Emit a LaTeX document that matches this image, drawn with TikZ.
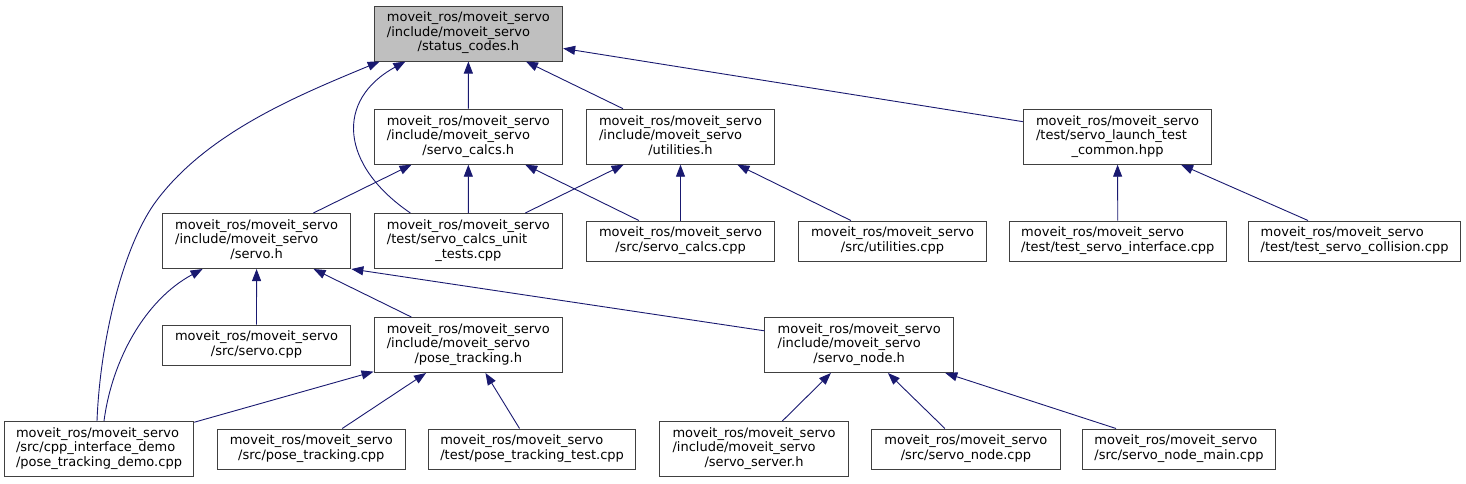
\documentclass[tikz,border=0pt]{standalone}
\usepackage{fontspec}
\setmainfont{DejaVu Sans}
\usetikzlibrary{arrows.meta}

\definecolor{edgeblue}{HTML}{191970}
\definecolor{boxgray}{HTML}{404040}
\definecolor{focusfill}{HTML}{BFBFBF}

% file labels: first lines flush left, last line centred
\newcommand{\threeline}[3]{\begin{tabular}{@{}l@{}}#1\\#2\\\multicolumn{1}{@{}c@{}}{#3}\end{tabular}}
\newcommand{\twoline}[2]{\begin{tabular}{@{}l@{}}#1\\\multicolumn{1}{@{}c@{}}{#2}\end{tabular}}
\newcommand{\pkg}{moveit\_ros/moveit\_servo}

\begin{document}
\begin{tikzpicture}[x=1pt,y=-1pt,>={Triangle[length=12pt,width=9pt]},
  file/.style={draw=boxgray,line width=1pt,inner xsep=11.75pt,inner ysep=0pt,
    minimum width=188.5pt,font=\fontsize{13}{14.5}\selectfont},
  tallfile/.style={file,minimum height=55pt},
  shortfile/.style={file,minimum height=40pt},
  dep/.style={->,draw=edgeblue,color=edgeblue,line width=0.9pt}]
\useasboundingbox (0,0) rectangle (1466,483);

\node[tallfile,fill=focusfill] (sc) at (468.4,33.5) {\threeline{\pkg}{/include/moveit\_servo}{/status\_codes.h}};

\node[tallfile] (calcsh) at (468.3,136.7) {\threeline{\pkg}{/include/moveit\_servo}{/servo\_calcs.h}};
\node[tallfile] (utilh) at (680.5,136.7) {\threeline{\pkg}{/include/moveit\_servo}{/utilities.h}};
\node[tallfile] (launch) at (1117.5,136.7) {\threeline{\pkg}{/test/servo\_launch\_test}{\_common.hpp}};

\node[tallfile] (servoh) at (256.6,241) {\threeline{\pkg}{/include/moveit\_servo}{/servo.h}};
\node[tallfile] (unit) at (468.4,241) {\threeline{\pkg}{/test/servo\_calcs\_unit}{\_tests.cpp}};
\node[shortfile] (calcscpp) at (680.5,241) {\twoline{\pkg}{/src/servo\_calcs.cpp}};
\node[shortfile] (utilcpp) at (892.5,241) {\twoline{\pkg}{/src/utilities.cpp}};
\node[shortfile] (iface) at (1117.8,241) {\twoline{\pkg}{/test/test\_servo\_interface.cpp}};
\node[shortfile] (coll) at (1354.6,241) {\twoline{\pkg}{/test/test\_servo\_collision.cpp}};

\node[shortfile] (servocpp) at (256.5,345) {\twoline{\pkg}{/src/servo.cpp}};
\node[tallfile] (pth) at (468.3,345) {\threeline{\pkg}{/include/moveit\_servo}{/pose\_tracking.h}};
\node[tallfile] (nodeh) at (859.2,345) {\threeline{\pkg}{/include/moveit\_servo}{/servo\_node.h}};

\node[tallfile] (demo) at (99,449) {\threeline{\pkg}{/src/cpp\_interface\_demo}{/pose\_tracking\_demo.cpp}};
\node[shortfile] (ptcpp) at (311.3,449) {\twoline{\pkg}{/src/pose\_tracking.cpp}};
\node[shortfile] (pttest) at (532.1,449) {\twoline{\pkg}{/test/pose\_tracking\_test.cpp}};
\node[tallfile] (server) at (754,449) {\threeline{\pkg}{/include/moveit\_servo}{/servo\_server.h}};
\node[shortfile] (nodecpp) at (965.9,449) {\twoline{\pkg}{/src/servo\_node.cpp}};
\node[shortfile] (nodemain) at (1179,449) {\twoline{\pkg}{/src/servo\_node\_main.cpp}};

% includes of status_codes.h
\draw[dep] ([xshift=-2pt]demo.north) .. controls (100,342) and (122.6,245.6) .. (157,200)
  .. controls (208.6,131.6) and (300,94.6) .. ([xshift=6pt]sc.south west);
\draw[dep] ([xshift=-58pt]unit.north) .. controls (340,165) and (335,100) .. ([xshift=-63pt]sc.south);
\draw[dep] (calcsh) -- (sc);
\draw[dep] (utilh) -- (sc);
\draw[dep] (launch) -- (sc);

% second level
\draw[dep] (servoh) -- (calcsh);
\draw[dep] (unit) -- (calcsh);
\draw[dep] (calcscpp) -- (calcsh);
\draw[dep] (unit) -- (utilh);
\draw[dep] (calcscpp) -- (utilh);
\draw[dep] (utilcpp) -- (utilh);
\draw[dep] (iface) -- (launch);
\draw[dep] (coll) -- (launch);

% servo.h and below
\draw[dep] ([xshift=5pt]demo.north) .. controls (112,360) and (145,300) .. ([xshift=-54pt]servoh.south);
\draw[dep] (servocpp) -- (servoh);
\draw[dep] (pth) -- (servoh);
\draw[dep] (nodeh) -- (servoh.south east);
\draw[dep] (demo) -- (pth);
\draw[dep] (ptcpp) -- (pth);
\draw[dep] (pttest) -- (pth);
\draw[dep] (server) -- (nodeh);
\draw[dep] (nodecpp) -- (nodeh);
\draw[dep] (nodemain) -- (nodeh);
\end{tikzpicture}
\end{document}
